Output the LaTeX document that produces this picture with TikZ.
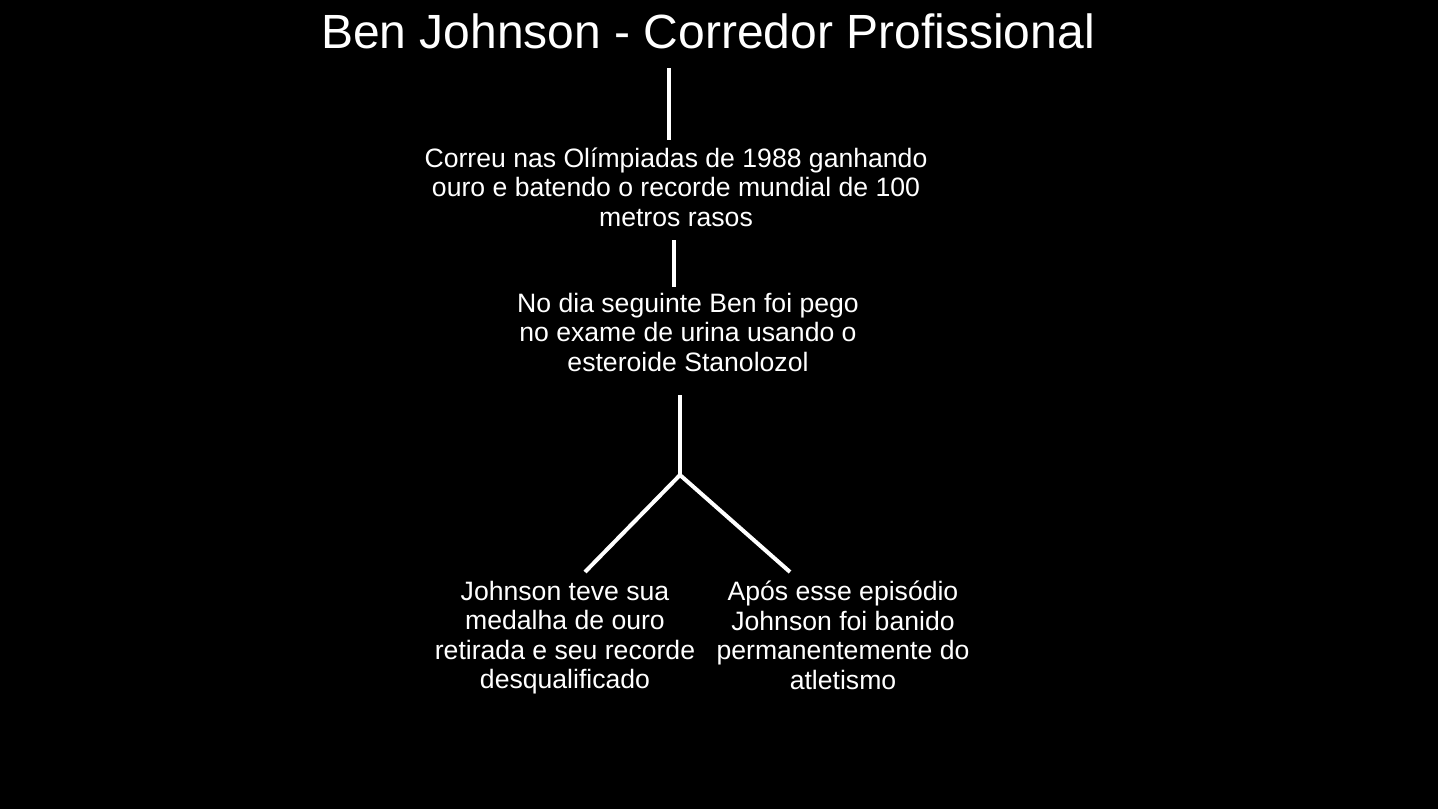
\documentclass[tikz,border=0pt]{standalone}
\usepackage{fontspec}
\setmainfont{Liberation Sans}
\begin{document}
\begin{tikzpicture}[x=1pt,y=-1pt,
  txt/.style={text=white,align=center,font=\fontsize{26.6}{29.5}\selectfont,inner sep=0pt},
  conn/.style={draw=white,line width=4pt}]
\fill[black] (0,0) rectangle (1438,809);
\useasboundingbox (0,0) rectangle (1438,809);
\node[text=white,inner sep=0pt,font=\fontsize{48}{52}\selectfont] (title) at (708,31) {Ben Johnson - Corredor Profissional};
\node[txt] (b1) at (676,187) {Correu nas Olímpiadas de 1988 ganhando\\ouro e batendo o recorde mundial de 100\\metros rasos};
\node[txt] (b2) at (688,332) {No dia seguinte Ben foi pego\\no exame de urina usando o\\esteroide Stanolozol};
\node[txt] (b3) at (565,637.5) {Johnson teve sua\\medalha de ouro\\retirada e seu recorde\\desqualificado};
\node[txt] (b4) at (843,635.5) {Após esse episódio\\Johnson foi banido\\permanentemente do\\atletismo};
\coordinate (t1) at (669,68);
\coordinate (t2) at (669,140);
\coordinate (u1) at (674,240);
\coordinate (u2) at (674,287);
\coordinate (v1) at (680,395);
\coordinate (j) at (680,475);
\coordinate (l) at (585,572);
\coordinate (r) at (790,572);
\draw[conn] (t1) -- (t2);
\draw[conn] (u1) -- (u2);
\draw[conn] (v1) -- (j);
\draw[conn] (j) -- (l);
\draw[conn] (j) -- (r);
\end{tikzpicture}
\end{document}
